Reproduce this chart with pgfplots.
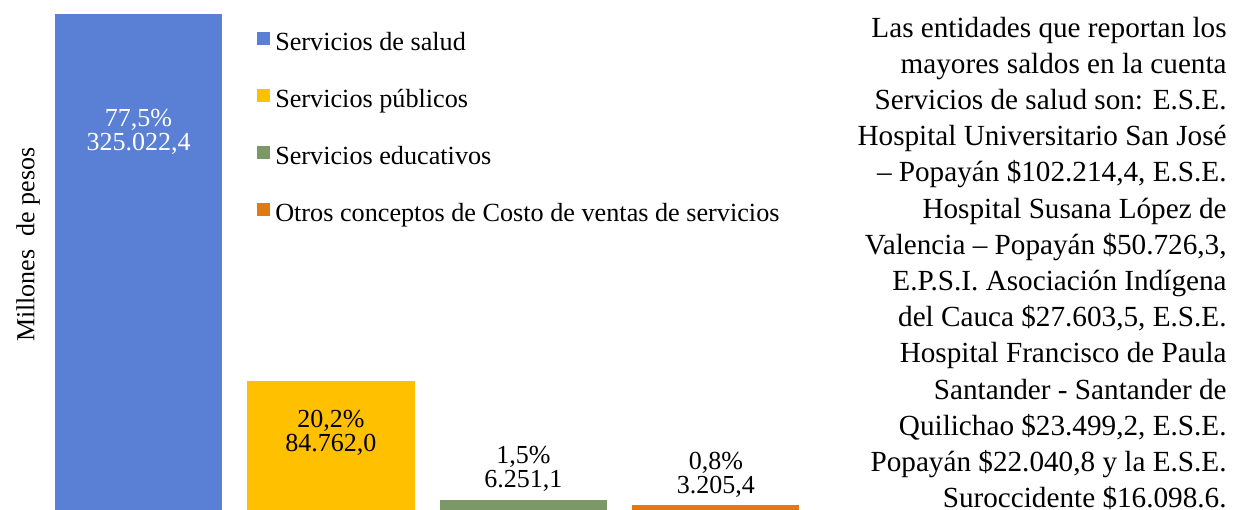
\documentclass[border=0pt]{standalone}
\usepackage{fontspec}
\setmainfont{Liberation Serif}
\usepackage{pgfplots}
\pgfplotsset{compat=1.18}

\definecolor{cblue}{HTML}{5A80D6}
\definecolor{cyellow}{HTML}{FFC000}
\definecolor{cgreen}{HTML}{7B9866}
\definecolor{corange}{HTML}{E07B12}

\begin{document}
\begin{tikzpicture}
\useasboundingbox (0,0) rectangle (616.5bp,255bp);
\begin{axis}[
    at={(21.125bp,0bp)}, anchor=south west,
    scale only axis, width=385bp, height=255bp,
    xmin=-0.5, xmax=3.5, ymin=0, ymax=334197,
    axis lines=none, ticks=none,
    ybar, bar width=83.5bp, bar shift=0pt,
    clip=false,
    legend style={
      at={(rel axis cs:0.279,0.939)}, anchor=north west,
      draw=none, fill=none, inner sep=0pt,
      font=\fontsize{13.1bp}{13.1bp}\selectfont,
      row sep=16.25bp, /tikz/column sep=2.4bp,
      nodes={inner sep=0pt, text height=9bp, text depth=3bp},
      cells={anchor=west},
    },
    legend image code/.code={\fill[#1] (0bp,-0.2bp) rectangle (6.5bp,6.3bp);},
  ]
  \addplot[fill=cblue, draw=none] coordinates {(0,325022.4)};
  \addlegendentry{Servicios de salud}
  \addplot[fill=cyellow, draw=none] coordinates {(1,84762.0)};
  \addlegendentry{Servicios públicos}
  \addplot[fill=cgreen, draw=none] coordinates {(2,6251.1)};
  \addlegendentry{Servicios educativos}
  \addplot[fill=corange, draw=none] coordinates {(3,3205.4)};
  \addlegendentry{Otros conceptos de Costo de ventas de servicios}

  \tikzset{lbl/.style={align=center, inner sep=0pt, font=\fontsize{13bp}{12bp}\selectfont}}
  \node[lbl, text=white] at (axis cs:0,247700) {77,5\%\\325.022,4};
  \node[lbl] at (axis cs:1,50800) {20,2\%\\84.762,0};
  \node[lbl] at (axis cs:2,27195) {1,5\%\\6.251,1};
  \node[lbl] at (axis cs:3,22935) {0,8\%\\3.205,4};

  \node[rotate=90, inner sep=0pt, font=\fontsize{13bp}{13bp}\selectfont]
    at (rel axis cs:-0.0185,0.52) {Millones\ \ de pesos};
\end{axis}
\node[anchor=north east, align=right, inner sep=0pt,
      font=\fontsize{14.6bp}{18.1bp}\selectfont] at (613.5bp,246.8bp) {%
Las entidades que reportan los\\
mayores saldos en la cuenta\\
Servicios de salud son: E.S.E.\\
Hospital Universitario San José\\
– Popayán \$102.214,4, E.S.E.\\
Hospital Susana López de\\
Valencia – Popayán \$50.726,3,\\
E.P.S.I. Asociación Indígena\\
del Cauca \$27.603,5, E.S.E.\\
Hospital Francisco de Paula\\
Santander - Santander de\\
Quilichao \$23.499,2, E.S.E.\\
Popayán \$22.040,8 y la E.S.E.\\
Suroccidente \$16.098.6.};
\end{tikzpicture}
\end{document}
